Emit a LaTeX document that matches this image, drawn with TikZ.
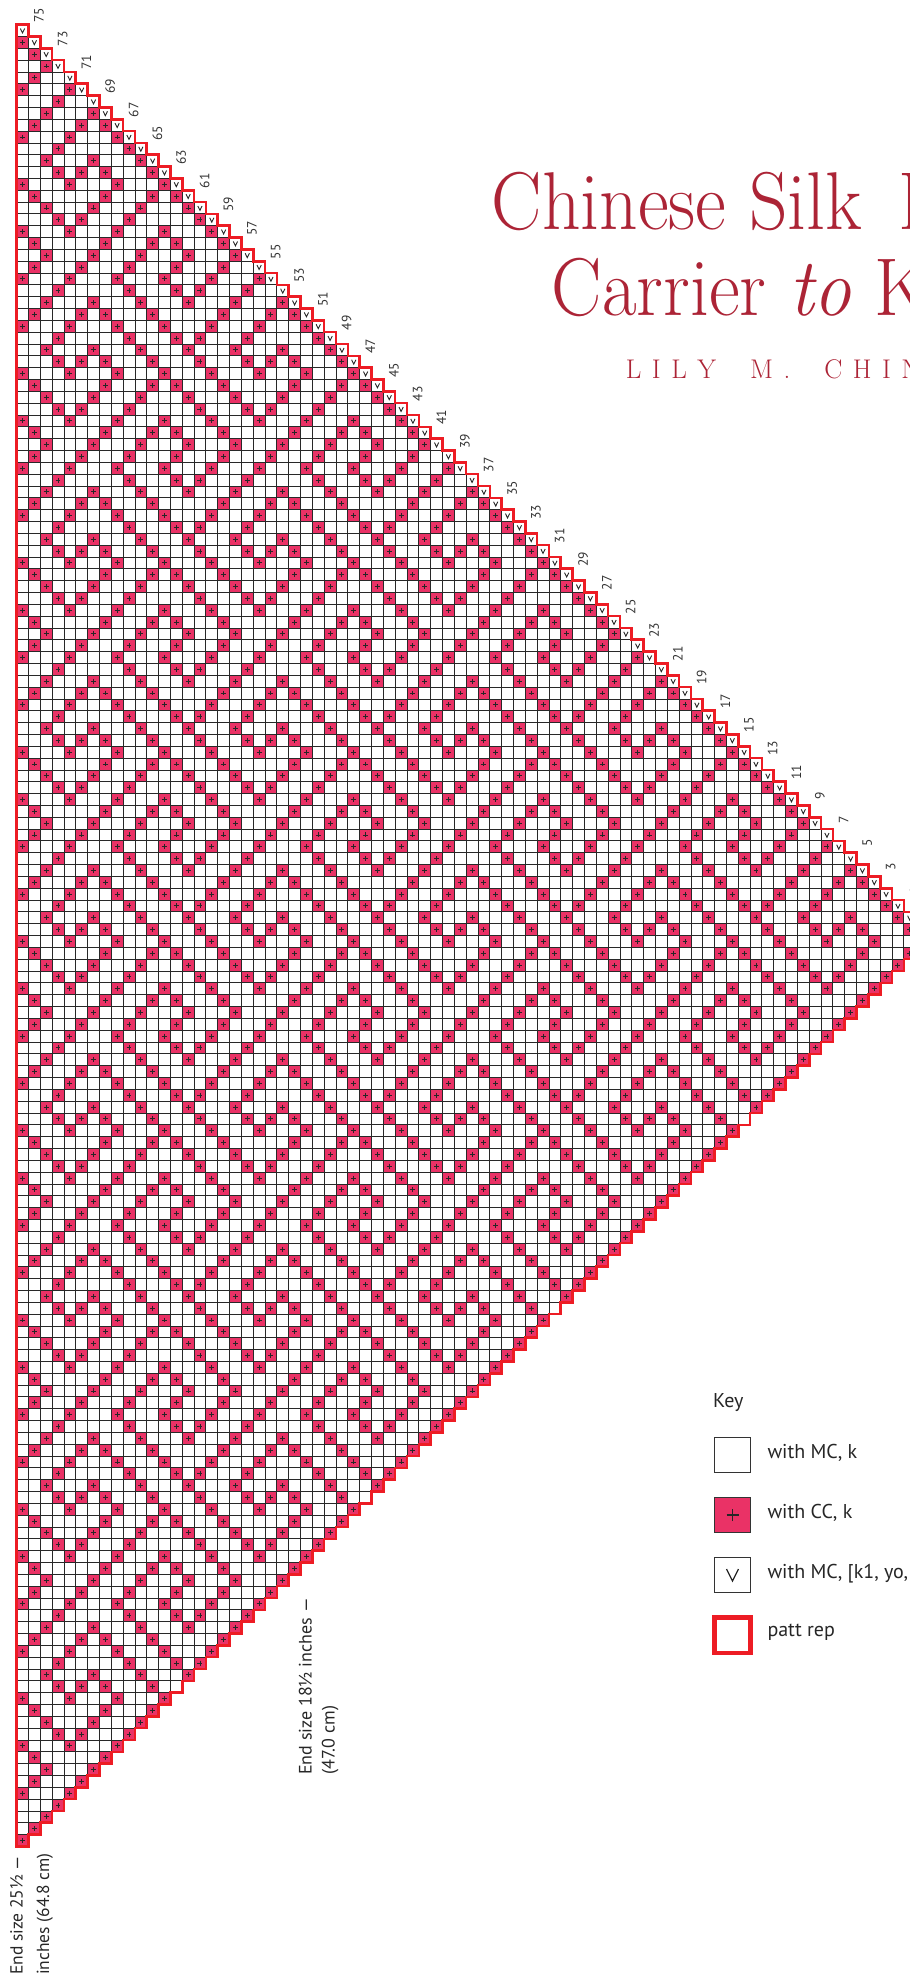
\documentclass[tikz,border=0pt]{standalone}
\usepackage{fontspec}
\setsansfont{PT Sans}
\definecolor{ccpink}{RGB}{234,50,102}
\definecolor{reprred}{RGB}{237,28,36}
\definecolor{titlered}{RGB}{172,36,54}
\definecolor{gridgray}{RGB}{40,40,40}
\tikzset{
  plusmark/.style={draw=black!85,line width=0.9pt},
  vmark/.style={draw=black!85,line width=0.9pt},
  gridline/.style={draw=gridgray,line width=0.8pt},
  reprline/.style={draw=reprred,line width=2.6pt,line join=miter},
  rowno/.style={font=\sffamily\fontsize{13.5}{14}\selectfont,text=black!80,rotate=90,inner sep=0pt},
  keytext/.style={font=\sffamily\fontsize{20}{22}\selectfont,text=black!85,anchor=base west,inner sep=0pt},
  sidetext/.style={font=\sffamily\fontsize{18}{20}\selectfont,text=black!85,rotate=90,anchor=base west,inner sep=0pt},
  keybox/.style={draw=black!80,line width=0.9pt,minimum size=35.7pt,inner sep=0pt},
  titletext/.style={font=\fontsize{82}{90}\selectfont,text=titlered,anchor=base west,inner sep=0pt},
}
% one contrast-colour stitch at row #1, column #2
\newcommand\ccst[2]{%
  \fill[ccpink] (#2,#1) rectangle ++(1,1);
  \draw[plusmark] ({#2+0.5},{#1+0.29}) -- ++(0,0.42) ({#2+0.29},{#1+0.5}) -- ++(0.42,0);}
% staircase edge of the chart
\newcommand\chartoutline{(0,0)
  \foreach \r in {0,...,75} { -- ({\r+1},\r) -- ({\r+1},{\r+1}) } -- (76,79)
  \foreach \r in {79,...,153} { -- ({154-\r},\r) -- ({154-\r},{\r+1}) } -- (0,154) -- cycle}
\newcommand\ls{\kern10.5pt}
\begin{document}
\begin{tikzpicture}[x=1pt,y=-1pt]
\useasboundingbox (0,0) rectangle (910,1973);

% chart
\begin{scope}[shift={(16.6,24.6)},x=11.83pt,y=-11.83pt]
  \begin{scope}
    \clip \chartoutline;
    % lattice nodes
    \foreach \q in {0,...,38} {
      \foreach \c in {0,4,...,76} \ccst{4*\q+1}{\c};
      \foreach \c in {2,6,...,74} \ccst{4*\q+3}{\c};
    }
    % links, repeat of 16 rows x 16 sts
    \foreach \q in {0,...,9} {
      \foreach \b in {0,...,4} {
        \foreach \o in {3,5,9,15} \ccst{16*\q}{16*\b+\o};
        \foreach \o in {1,7,11,13} \ccst{16*\q+2}{16*\b+\o};
        \foreach \o in {1,5,9,13} \ccst{16*\q+4}{16*\b+\o};
        \foreach \o in {3,9,13,15} \ccst{16*\q+6}{16*\b+\o};
        \foreach \o in {1,5,7,11} \ccst{16*\q+8}{16*\b+\o};
        \foreach \o in {3,9,13,15} \ccst{16*\q+10}{16*\b+\o};
        \foreach \o in {3,5,7,11,15} \ccst{16*\q+12}{16*\b+\o};
        \foreach \o in {1,7,11,13} \ccst{16*\q+14}{16*\b+\o};
      }
    }
    \foreach \i in {0,...,154} \draw[gridline] (0,\i) -- (76,\i);
    \foreach \j in {0,...,76} \draw[gridline] (\j,0) -- (\j,154);
    % increases along the edge
    \foreach \r in {0,...,75}
      \draw[vmark] ({\r+0.32},{\r+0.33}) -- ({\r+0.5},{\r+0.7}) -- ({\r+0.68},{\r+0.33});
  \end{scope}
  \draw[reprline] \chartoutline;
  % row numbers
  \foreach \k [evaluate=\k as \lab using {int(75-2*\k)}] in {0,...,37}
    \node[rowno] (lbl\k) at ({2*\k+1.9},{2*\k-0.8}) {\lab};
\end{scope}

% title
\node[titletext,xscale=0.92] (title1) at (491.7,229.3) {Chinese Silk\ \kern15pt Road};
\node[titletext,xscale=0.92] (title2) at (551.7,315) {Carrier \textit{to} Knitting};
\node[titletext,font=\fontsize{27}{30}\selectfont] (author) at (625.7,378.3)
  {L\ls I\ls L\ls Y\kern34pt M\ls.\kern34pt C\ls H\ls I\ls N};

% end sizes
\node[sidetext,font=\sffamily\fontsize{17.5}{20}\selectfont] (endA1) at (22.7,1975) {End size 25½ —};
\node[sidetext,font=\sffamily\fontsize{17.5}{20}\selectfont] (endA2) at (49,1975) {inches (64.8 cm)};
\node[sidetext] (endB1) at (311.5,1775) {End size 18½ inches —};
\node[sidetext] (endB2) at (334.5,1775) {(47.0 cm)};

% key
\node[keytext] (keyhead) at (713,1407) {Key};
\node[keybox] (kmc) at (732.5,1455) {};
\node[keytext] (kmctext) at (767.3,1458) {with MC, k};
\node[keybox,fill=ccpink] (kcc) at (732.5,1515) {};
\draw[plusmark,line width=1.3pt] ([yshift=-6pt]kcc.center) -- ([yshift=6pt]kcc.center)
  ([xshift=-6pt]kcc.center) -- ([xshift=6pt]kcc.center);
\node[keytext] (kcctext) at (767.3,1518) {with CC, k};
\node[keybox] (kinc) at (732.5,1575) {};
\draw[vmark,line width=1.3pt] ([shift={(-6pt,6pt)}]kinc.center) -- ([shift={(0pt,-6pt)}]kinc.center)
  -- ([shift={(6pt,6pt)}]kinc.center);
\node[keytext] (kinctext) at (767.3,1578) {with MC, [k1, yo, k1] in same st};
\node[keybox,draw=reprred,line width=4.7pt] (krep) at (732.3,1635) {};
\node[keytext] (kreptext) at (767.3,1636) {patt rep};
\end{tikzpicture}
\end{document}
